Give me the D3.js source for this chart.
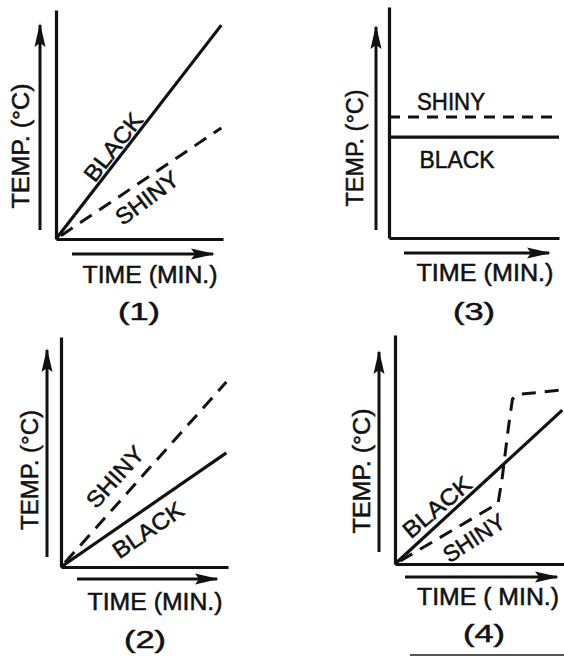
<!DOCTYPE html>
<html lang="en">
<head>
<meta charset="UTF-8">
<title>Temperature of black and shiny surfaces</title>
<script src="https://d3js.org/d3.v7.min.js"></script>
<style>
	body { margin: 0; background: #fff; }
	svg { display: block; }
	text { font-family: "Liberation Sans", Arial, sans-serif; fill: #111; stroke: #111; stroke-width: 0.5; }
</style>
</head>
<body>
<svg id="chart" width="564" height="656"></svg>
<script>
// panel captions and axis texts
var panelNames = ["(1)", "(2)", "(3)", "(4)"];
var xLabels = ["TIME (MIN.)", "TIME (MIN.)", "TIME (MIN.)", "TIME ( MIN.)"];
var yLabel = "TEMP. (°C)";
var seriesNames = ["BLACK", "SHINY"];

// [time, temp] in arbitrary units (0..10 on both axes)
var blackValues = [
	[[0, 0], [9.9, 9.34]],
	[[0, 0], [9.9, 4.96]],
	[[0, 4.37], [10, 4.37]],
	[[0, 0], [9.9, 6.72]]
];
var shinyValues = [
	[[0, 0], [9.9, 4.85]],
	[[0, 0], [9.9, 8.04]],
	[[0, 5.24], [10, 5.24]],
	[[0, 0], [6.1, 2.65], [6.35, 3.8], [6.7, 5.9], [6.95, 7.2], [7.25, 7.4], [9.9, 7.6]]
];

// layout of each panel (pixels)
var panels = [
	{ox: 56, oy: 239, w: 167, h: 229,
	 up: [40, 230, 25], right: [254, 72, 213],
	 yl: [21, 146, 125], xl: [150, 275, 135], cap: [139, 312],
	 black: [113, 147, -52, 80], shiny: [147, 198, -37, 73]},
	{ox: 61, oy: 567, w: 167, h: 230,
	 up: [47, 557, 350], right: [579, 77, 217],
	 yl: [30, 470, 120], xl: [155, 602, 135], cap: [145, 640],
	 black: [148, 530, -34.5, 81], shiny: [115, 477, -48, 74]},
	{ox: 389, oy: 238, w: 170, h: 231,
	 up: [376, 230, 27], right: [253, 404, 549],
	 yl: [355, 148, 117], xl: [485, 273, 137], cap: [474, 312],
	 black: [457, 160, 0, 75], shiny: [451, 102, 0, 68]},
	{ox: 395, oy: 564, w: 169, h: 229,
	 up: [379, 552, 352], right: [577, 405, 557],
	 yl: [362, 471, 125], xl: [488, 597, 142], cap: [484, 634],
	 black: [437, 507, -40, 82], shiny: [474, 538, -33, 69]}
];

var svg = d3.select("#chart");

svg.append("defs").append("marker")
	.attr("id", "head")
	.attr("markerUnits", "userSpaceOnUse")
	.attr("viewBox", "0 -6 24 12")
	.attr("refX", 22)
	.attr("refY", 0)
	.attr("markerWidth", 24)
	.attr("markerHeight", 12)
	.attr("orient", "auto")
	.append("path")
	.attr("d", "M0,-5.5L24,0L0,5.5L4,0Z")
	.attr("fill", "#111");

function label(g, txt, cx, cy, angle, len) {
	g.append("text")
		.attr("transform", "translate(" + cx + "," + cy + ") rotate(" + angle + ")")
		.attr("text-anchor", "middle")
		.attr("dominant-baseline", "central")
		.attr("font-size", 23)
		.attr("textLength", len)
		.attr("lengthAdjust", "spacingAndGlyphs")
		.text(txt);
}

panels.forEach(function(p, i) {
	var g = svg.append("g");
	var x = d3.scaleLinear().domain([0, 10]).range([p.ox, p.ox + p.w]);
	var y = d3.scaleLinear().domain([0, 10]).range([p.oy, p.oy - p.h]);

	// axes: plain lines, no ticks
	g.append("g")
		.attr("transform", "translate(0," + p.oy + ")")
		.call(d3.axisBottom(x).tickValues([]).tickSizeOuter(0));
	g.append("g")
		.attr("transform", "translate(" + p.ox + ",0)")
		.call(d3.axisLeft(y).tickValues([]).tickSizeOuter(0));
	g.selectAll(".domain").attr("stroke", "#111").attr("stroke-width", 3.2);

	// direction arrows beside the axes
	g.append("line")
		.attr("x1", p.up[0]).attr("y1", p.up[1])
		.attr("x2", p.up[0]).attr("y2", p.up[2])
		.attr("stroke", "#111").attr("stroke-width", 3)
		.attr("marker-end", "url(#head)");
	g.append("line")
		.attr("x1", p.right[1]).attr("y1", p.right[0])
		.attr("x2", p.right[2]).attr("y2", p.right[0])
		.attr("stroke", "#111").attr("stroke-width", 3)
		.attr("marker-end", "url(#head)");

	var line = d3.line().x(function(d) { return x(d[0]); }).y(function(d) { return y(d[1]); });

	g.append("path")
		.datum(blackValues[i])
		.attr("d", line)
		.attr("fill", "none")
		.attr("stroke", "#111")
		.attr("stroke-width", 3.2)
		.attr("stroke-linejoin", "round");

	g.append("path")
		.datum(shinyValues[i])
		.attr("d", line)
		.attr("fill", "none")
		.attr("stroke", "#111")
		.attr("stroke-width", 3)
		.attr("stroke-dasharray", i == 2 ? "11,8" : "14,9")
		.attr("stroke-dashoffset", i == 2 ? 0 : -6);

	label(g, seriesNames[0], p.black[0], p.black[1], p.black[2], p.black[3]);
	label(g, seriesNames[1], p.shiny[0], p.shiny[1], p.shiny[2], p.shiny[3]);
	label(g, yLabel, p.yl[0], p.yl[1], -90, p.yl[2]);
	label(g, xLabels[i], p.xl[0], p.xl[1], 0, p.xl[2]);
	label(g, panelNames[i], p.cap[0], p.cap[1], 0, 42);
});

// scan edge at the bottom right
svg.append("line")
	.attr("x1", 410).attr("y1", 655).attr("x2", 564).attr("y2", 655)
	.attr("stroke", "#555").attr("stroke-width", 2);
</script>
</body>
</html>
